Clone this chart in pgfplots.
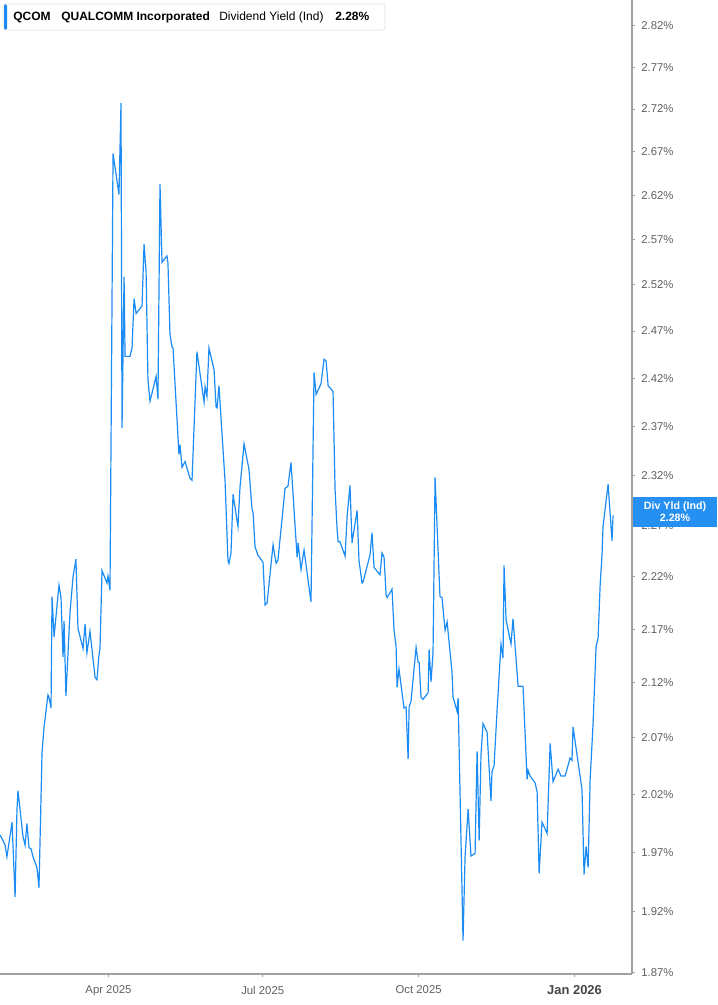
\documentclass[border=0pt]{standalone}
\usepackage{fontspec}
\setmainfont{Liberation Sans}
\usepackage{pgfplots}
\pgfplotsset{compat=1.18}

\definecolor{lineblue}{RGB}{28,140,245}
\definecolor{boxblue}{RGB}{38,143,242}
\definecolor{axisgray}{RGB}{160,160,160}
\definecolor{labelgray}{RGB}{95,95,95}
\definecolor{darklabel}{RGB}{70,70,70}
\definecolor{legendborder}{RGB}{225,225,225}

\begin{document}
\begin{tikzpicture}
% 1 px of the reference = 0.75pt
\path[use as bounding box] (0pt,0pt) rectangle (537.75pt,753.75pt);

\begin{axis}[
  at={(0pt,23.25pt)}, anchor=south west,
  scale only axis, width=474pt, height=730.5pt,
  xmin=26, xmax=398.9,
  ymode=log, ymin=1.8684, ymax=2.852,
  axis x line*=bottom, axis y line*=right,
  axis line style={draw=axisgray, line width=1pt},
  tick style={draw=axisgray, line width=0.75pt},
  major tick length=2.5pt, tick align=outside,
  xtick={90,181,273,365},
  xticklabels={Apr 2025, Jul 2025, Oct 2025, {\fontsize{9.7}{11}\selectfont\bfseries\color{darklabel}Jan 2026}},
  xticklabel style={font=\fontsize{8.5}{10}\selectfont, text=labelgray, yshift=-3pt},
  ytick={1.87,1.92,1.97,2.02,2.07,2.12,2.17,2.22,2.27,2.32,2.37,2.42,2.47,2.52,2.57,2.62,2.67,2.72,2.77,2.82},
  yticklabels={1.87\%,1.92\%,1.97\%,2.02\%,2.07\%,2.12\%,2.17\%,2.22\%,2.27\%,2.32\%,2.37\%,2.42\%,2.47\%,2.52\%,2.57\%,2.62\%,2.67\%,2.72\%,2.77\%,2.82\%},
  yticklabel style={font=\fontsize{8.5}{10}\selectfont, text=labelgray, xshift=1pt},
  minor tick num=0,
]
\addplot[color=lineblue, line width=0.9pt, mark=none] table {
d v
26.0 1.985
27.8 1.980
29.0 1.976
30.1 1.966
33.1 1.996
34.9 1.932
36.0 2.006
36.6 2.023
39.6 1.983
40.8 1.976
41.9 1.995
43.1 1.974
44.3 1.973
45.5 1.966
47.8 1.957
49.0 1.940
50.8 2.057
52.0 2.080
54.3 2.109
54.9 2.107
56.1 2.097
56.7 2.201
57.9 2.163
60.8 2.212
62.0 2.200
63.2 2.144
63.8 2.178
64.9 2.108
67.3 2.186
69.1 2.220
70.8 2.237
72.0 2.171
75.0 2.152
76.2 2.175
77.3 2.148
79.1 2.168
82.1 2.125
83.2 2.123
84.4 2.146
85.0 2.152
86.2 2.226
89.1 2.214
89.7 2.221
90.9 2.207
92.7 2.668
96.2 2.621
97.4 2.727
98.0 2.368
99.2 2.529
99.8 2.443
102.7 2.443
103.9 2.452
105.1 2.505
106.3 2.489
109.8 2.497
111.0 2.565
112.2 2.534
113.3 2.418
114.5 2.396
116.9 2.413
118.1 2.422
119.2 2.398
120.4 2.633
121.6 2.545
124.5 2.552
125.1 2.544
126.3 2.466
127.5 2.453
128.1 2.452
131.6 2.341
132.2 2.351
133.4 2.328
135.2 2.334
138.1 2.317
139.3 2.315
142.2 2.448
146.4 2.395
147.0 2.411
148.1 2.401
149.3 2.452
152.3 2.429
153.5 2.390
154.1 2.389
155.2 2.412
158.8 2.314
160.5 2.236
161.1 2.233
162.3 2.243
163.5 2.301
166.4 2.269
167.6 2.308
170.0 2.352
172.9 2.326
174.7 2.286
175.3 2.283
176.5 2.249
178.2 2.241
181.2 2.234
182.4 2.193
183.6 2.195
187.1 2.251
188.9 2.233
190.0 2.236
194.2 2.307
195.9 2.309
197.7 2.333
201.3 2.239
201.9 2.253
203.6 2.227
205.4 2.246
209.5 2.196
211.3 2.426
212.5 2.403
215.4 2.414
217.2 2.440
218.4 2.438
219.6 2.412
222.5 2.406
223.7 2.306
224.9 2.266
225.5 2.254
226.6 2.254
229.6 2.240
230.8 2.279
232.5 2.310
233.7 2.253
236.7 2.285
237.8 2.236
239.6 2.214
240.2 2.215
244.3 2.241
245.5 2.263
246.7 2.229
250.2 2.222
251.4 2.243
252.6 2.239
253.8 2.203
254.4 2.200
257.3 2.208
258.5 2.169
259.7 2.154
260.3 2.116
261.4 2.133
264.4 2.097
265.6 2.098
266.8 2.051
267.4 2.098
268.5 2.103
271.5 2.153
272.7 2.139
273.3 2.139
274.4 2.107
275.6 2.105
278.6 2.111
279.2 2.151
280.3 2.121
281.5 2.148
282.7 2.318
285.6 2.201
286.8 2.200
288.6 2.169
289.8 2.177
292.7 2.130
293.3 2.107
295.7 2.094
296.3 2.106
299.2 1.896
300.4 1.966
302.2 2.007
303.9 1.967
306.3 1.969
307.5 2.058
308.7 1.980
309.8 2.055
311.0 2.083
313.4 2.075
315.7 2.014
316.3 2.040
317.5 2.045
319.3 2.095
321.6 2.156
322.8 2.143
323.4 2.231
324.6 2.179
327.5 2.156
328.7 2.180
331.7 2.117
334.6 2.117
337.0 2.033
337.6 2.041
338.8 2.036
341.7 2.030
342.9 2.022
344.1 1.952
345.8 1.996
348.8 1.986
350.6 2.065
352.3 2.031
355.3 2.042
357.0 2.036
359.4 2.036
362.4 2.052
363.5 2.050
364.1 2.080
369.4 2.024
370.6 1.951
371.8 1.975
373.0 1.957
374.2 2.033
375.9 2.082
377.7 2.154
378.9 2.162
380.1 2.212
381.2 2.241
381.8 2.269
384.8 2.311
387.1 2.255
387.7 2.280
};
\end{axis}

% legend box, top left
\draw[legendborder, fill=white, rounded corners=1.5pt, line width=0.6pt]
  (3pt,731.25pt) rectangle (288.75pt,750.75pt);
\fill[lineblue, rounded corners=0.8pt] (3pt,731.6pt) rectangle (5.25pt,750.4pt);
\node[anchor=base west, inner sep=0pt, font=\fontsize{9}{10}\selectfont\bfseries] at (9.75pt,738pt) {QCOM};
\node[anchor=base west, inner sep=0pt, font=\fontsize{9}{10}\selectfont\bfseries] at (45.75pt,738pt) {QUALCOMM Incorporated};
\node[anchor=base west, inner sep=0pt, font=\fontsize{9}{10}\selectfont] at (164.25pt,738pt) {Dividend Yield (Ind)};
\node[anchor=base west, inner sep=0pt, font=\fontsize{9}{10}\selectfont\bfseries] at (251.25pt,738pt) {2.28\%};

% last value box on the right axis
\fill[boxblue] (474.75pt,358.5pt) rectangle (537.75pt,381pt);
\node[anchor=base, inner sep=0pt, text=white, font=\fontsize{8}{9}\selectfont\bfseries] at (506.25pt,371.5pt) {Div Yld (Ind)};
\node[anchor=base, inner sep=0pt, text=white, font=\fontsize{8}{9}\selectfont\bfseries] at (506.25pt,362.5pt) {2.28\%};
\end{tikzpicture}
\end{document}
